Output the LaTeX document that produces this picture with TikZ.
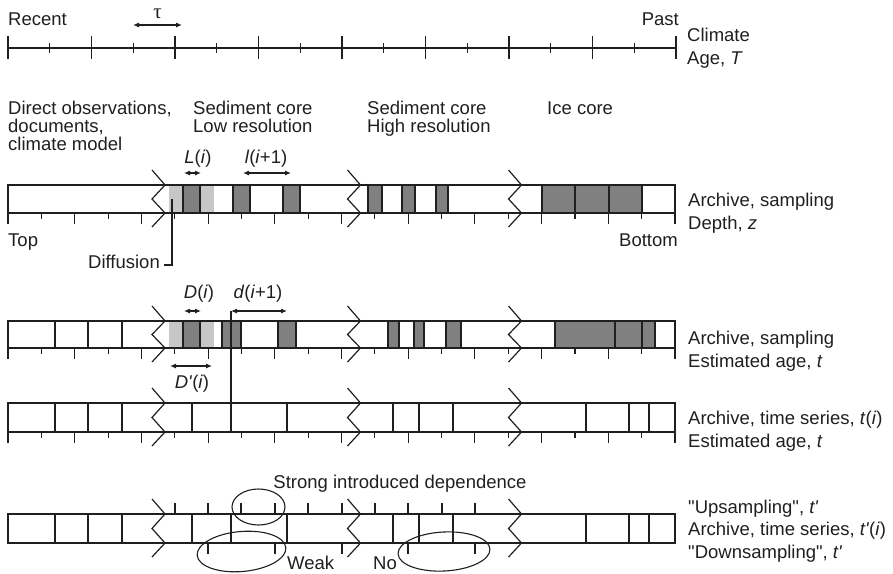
\documentclass[tikz,border=0pt]{standalone}
\usepackage{fontspec}
\setmainfont{Liberation Sans}
\newfontfamily\greekserif{Liberation Serif}
\usetikzlibrary{arrows.meta,shapes.geometric}
\definecolor{ink}{gray}{0.12}
\definecolor{dkg}{gray}{0.5}
\definecolor{ltg}{gray}{0.78}
\newcommand{\sq}{\textquotesingle}
\newcommand{\dq}{\textquotedbl}
\begin{document}
\begin{tikzpicture}[x=1pt,y=-1pt,
  txt/.style={font=\fontsize{18.5}{22}\selectfont, inner sep=0pt, text=ink},
  lt/.style={txt, anchor=base west},
  rt/.style={txt, anchor=base east},
  ct/.style={txt, anchor=base},
  axisline/.style={draw=ink, line width=1.1pt},
  tickline/.style={draw=ink, line width=1.1pt},
  boxline/.style={draw=ink, line width=1.3pt},
  sampleline/.style={draw=ink, line width=2.4pt},
  darkblock/.style={fill=dkg, draw=ink, line width=1.2pt},
  lightblock/.style={fill=ltg},
  zig/.style={draw=ink, line width=1.2pt, line join=miter},
  dblarrow/.style={draw=ink, line width=1.1pt, {Latex[length=6pt,width=5pt]}-{Latex[length=6pt,width=5pt]}},
  ring/.style={draw=ink, line width=1.1pt, ellipse, inner sep=0pt},
  smark/.style={draw=ink, line width=2pt}
]
\useasboundingbox (0,0) rectangle (893,573);

% ---------------- climate axis ----------------
\coordinate (axL) at (8,48);
\coordinate (axR) at (676,48);
\draw[axisline] (axL) -- (axR);
\foreach \k in {0,...,16}{
  \pgfmathsetmacro\xx{8+41.75*\k}
  \ifodd\k \draw[tickline] (\xx,43) -- (\xx,53); \else \draw[tickline] (\xx,36) -- (\xx,59); \fi
}
\coordinate (tauL) at (133,25);
\coordinate (tauR) at (182,25);
\draw[dblarrow] (tauL) -- (tauR);
\node[ct, font=\fontsize{21}{24}\selectfont\greekserif] (tau) at (157.5,18) {τ};
\node[lt] (recent) at (8,25.5) {Recent};
\node[rt] (past) at (679,25.5) {Past};
\node[lt] (climate) at (687,41.5) {Climate};
\node[lt] (ageT) at (687,64.5) {Age, \textit{T}};

% ---------------- column headings ----------------
\node[lt] (h1a) at (8,114.5) {Direct observations,};
\node[lt] (h1b) at (8,132.5) {documents,};
\node[lt] (h1c) at (8,150.5) {climate model};
\node[lt] (h2a) at (193,114.5) {Sediment core};
\node[lt] (h2b) at (193,132.5) {Low resolution};
\node[lt] (h3a) at (367,114.5) {Sediment core};
\node[lt] (h3b) at (367,132.5) {High resolution};
\node[lt] (h4a) at (547,114.5) {Ice core};

% ---------------- row 1: depth ----------------
\foreach \a/\b in {169/183,201/214}{ \fill[lightblock] (\a,185) rectangle (\b,213); }
\foreach \a/\b in {183/200,233/250,283/300,368/382,402/415,436/448,542/575,575/609,609/642}{
  \draw[darkblock] (\a,185) rectangle (\b,213); }
% row 2 blocks
\foreach \a/\b in {169/183,201/214}{ \fill[lightblock] (\a,321) rectangle (\b,348); }
\foreach \a/\b in {183/200,222/241,278/296,388/399,414/424,446/461,555/615,615/642,642/655}{
  \draw[darkblock] (\a,321) rectangle (\b,348); }

% boxes, zigzags
\foreach \t/\b in {185/213,321/348,403/432,514/543}{
  \draw[boxline] (8,\t) rectangle (675,\b);
  \foreach \c in {158.5,354,515}{
    \draw[zig] (\c-6.5,\t-15) -- (\c+6.5,\t) -- (\c-6.5,{(\t+\b)/2}) -- (\c+6.5,\b) -- (\c-6.5,\b+14);
  }
}
% ticks below rows 1-3
\foreach \b in {213,348,432}{
  \foreach \k in {0,...,20}{
    \pgfmathsetmacro\xx{8+33.35*\k}
    \ifodd\k \draw[tickline] (\xx,\b) -- (\xx,\b+5.5); \else \draw[tickline] (\xx,\b) -- (\xx,\b+11); \fi
  }
}
% thick sample lines
\foreach \x in {55,88,122}{ \draw[sampleline] (\x,321) -- (\x,348); }
\foreach \t/\b in {403/432,514/543}{
  \foreach \x in {55,88,122,192,231,287,393,419,453,586,629,649}{ \draw[sampleline] (\x,\t) -- (\x,\b); }
}

% row 1 annotations
\coordinate (LiL) at (184,173); \coordinate (LiR) at (201,173);
\draw[dblarrow] (LiL) -- (LiR);
\node[ct] (Li) at (198,163.5) {\textit{L}(\textit{i})};
\coordinate (liL) at (243,173); \coordinate (liR) at (291,173);
\draw[dblarrow] (liL) -- (liR);
\node[ct] (li) at (266,163.5) {\textit{l}(\textit{i}+1)};
\node[lt] (top) at (8,246.5) {Top};
\node[rt] (bottom) at (678,246.5) {Bottom};
\node[rt] (diff) at (160,268.5) {Diffusion};
\coordinate (dfA) at (172,199); \coordinate (dfB) at (172,265); \coordinate (dfC) at (164,265);
\draw[tickline] (dfA) -- (dfB) -- (dfC);
\node[lt] (r1a) at (688,206.5) {Archive, sampling};
\node[lt] (r1b) at (688,229.5) {Depth, \textit{z}};

% row 2 annotations
\coordinate (DiL) at (184,311); \coordinate (DiR) at (201,311);
\draw[dblarrow] (DiL) -- (DiR);
\node[ct] (Di) at (199,298.5) {\textit{D}(\textit{i})};
\coordinate (diL) at (231,311); \coordinate (diR) at (287,311);
\draw[dblarrow] (diL) -- (diR);
\node[ct] (di) at (258,298.5) {\textit{d}(\textit{i}+1)};
\coordinate (diB) at (231,403);
\draw[tickline] (diL) -- (diB);
\coordinate (DpL) at (170,366); \coordinate (DpR) at (212,366);
\draw[dblarrow] (DpL) -- (DpR);
\node[ct] (Dp) at (192,388.5) {\textit{D\sq}(\textit{i})};
\node[lt] (r2a) at (688,344.5) {Archive, sampling};
\node[lt] (r2b) at (688,367.5) {Estimated age, \textit{t}};

% row 3 labels
\node[lt] (r3a) at (688,424.5) {Archive, time series, \textit{t}(\textit{i})};
\node[lt] (r3b) at (688,447.5) {Estimated age, \textit{t}};

% row 4: up/down sampling marks
\foreach \k in {5,...,14}{
  \pgfmathsetmacro\xx{8+33.35*\k}
  \draw[smark] (\xx,503) -- (\xx,514);
}
\foreach \k in {6,8,10,12,14}{
  \pgfmathsetmacro\xx{8+33.35*\k}
  \draw[smark] (\xx,543) -- (\xx,554);
}
\node[ct] (strong) at (400,488.5) {Strong introduced dependence};
\node[ring, minimum width=53pt, minimum height=36pt] (e1) at (258.5,507) {};
\node[ring, minimum width=89pt, minimum height=40pt, rotate=5] (e2) at (241.5,551.5) {};
\node[ring, minimum width=92pt, minimum height=39pt, rotate=3] (e3) at (444,551.5) {};
\node[lt] (weak) at (287,569.5) {Weak};
\node[lt] (no) at (373,569.5) {No};
\node[lt] (r4a) at (688,513.5) {\dq Upsampling\dq, \textit{t\sq}};
\node[lt] (r4b) at (688,535.5) {Archive, time series, \textit{t\sq}(\textit{i})};
\node[lt] (r4c) at (688,558.5) {\dq Downsampling\dq, \textit{t\sq}};
\end{tikzpicture}
\end{document}
